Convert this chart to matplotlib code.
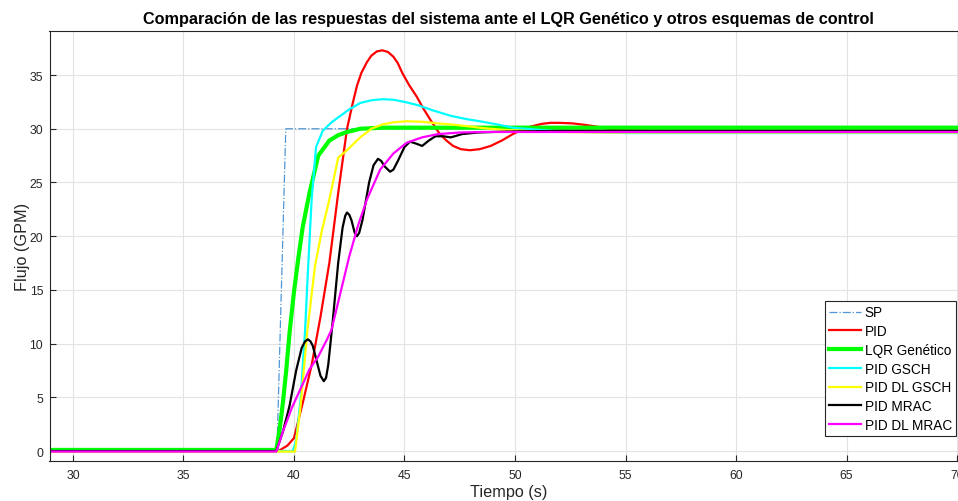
import matplotlib
matplotlib.use("Agg")
import matplotlib.pyplot as plt

plt.rcParams['font.family'] = ['Liberation Sans', 'DejaVu Sans']

# ---- data ----
t_sp = [28, 39.23, 39.63, 71]
y_sp = [0, 0, 30, 30]

t_pid = [28, 39.3, 39.7, 40.0, 40.4, 40.8, 41.2, 41.6, 42.0, 42.4, 42.65, 42.85, 43.05, 43.3,
         43.5, 43.75, 44.0, 44.25, 44.5, 44.7, 44.9, 45.2, 45.55, 45.85, 46.15, 46.6, 46.9,
         47.2, 47.55, 47.96, 48.4, 48.9, 49.4, 49.9, 50.3, 50.7, 51.2, 51.6, 52.0, 52.6,
         53.2, 53.7, 54.2, 54.8, 56, 58, 60, 71]
y_pid = [0, 0, 0.5, 1.2, 4.5, 8.0, 12.5, 17.5, 24.0, 30.0, 32.3, 34.0, 35.2, 36.2,
         36.8, 37.2, 37.3, 37.15, 36.7, 36.1, 35.2, 34.1, 33.0, 31.9, 30.9, 29.5, 28.9,
         28.4, 28.1, 28.0, 28.1, 28.4, 28.9, 29.5, 29.9, 30.2, 30.45, 30.55, 30.55, 30.5,
         30.35, 30.2, 30.0, 29.85, 29.8, 29.8, 29.8, 29.8]

t_lqr = [28, 39.2, 39.35, 39.5, 39.65, 39.8, 40.0, 40.2, 40.4, 40.7, 41.1, 41.6, 42.0, 42.4,
         43.0, 44.0, 46, 50, 71]
y_lqr = [0.1, 0.1, 2.0, 4.5, 7.5, 11.0, 14.8, 18.0, 20.9, 24.0, 27.5, 28.9, 29.4, 29.7,
         30.0, 30.1, 30.1, 30.1, 30.1]

t_gsch = [28, 39.95, 40.1, 40.3, 40.5, 40.65, 40.8, 41.0, 41.3, 41.7, 42.1, 42.5, 43.0, 43.5,
          44.0, 44.5, 45.0, 45.6, 46.3, 47.1, 47.8, 48.4, 49.2, 49.9, 50.5, 52, 55, 58, 71]
y_gsch = [0, 0, 1.0, 4.8, 11.1, 17.5, 23.4, 28.3, 29.8, 30.6, 31.2, 31.8, 32.4, 32.65,
          32.75, 32.7, 32.5, 32.2, 31.7, 31.2, 30.9, 30.7, 30.4, 30.1, 30.0, 29.75, 29.6, 29.6, 29.6]

t_dlgsch = [28, 40.05, 40.3, 40.6, 40.95, 41.25, 41.6, 42.0, 42.45, 43.0, 43.5, 44.0, 44.5,
            45.1, 45.8, 46.5, 47.1, 48.0, 48.6, 49.5, 50.5, 52, 54, 71]
y_dlgsch = [-0.05, -0.05, 4.2, 11.1, 17.2, 20.4, 23.4, 27.3, 28.1, 29.2, 30.0, 30.4, 30.6,
            30.7, 30.65, 30.5, 30.4, 30.2, 30.05, 29.9, 29.8, 29.7, 29.65, 29.65]

t_mrac = [28, 39.2, 39.5, 39.8, 40.1, 40.35, 40.5, 40.63, 40.75, 40.85, 41.05, 41.2, 41.35,
          41.45, 41.55, 41.75, 42.0, 42.2, 42.32, 42.4, 42.5, 42.6, 42.75, 42.85, 42.95, 43.1,
          43.4, 43.6, 43.8, 43.95, 44.1, 44.35, 44.5, 44.7, 45.0, 45.25, 45.55,
          45.8, 46.1, 46.4, 46.75, 47.1, 47.6, 48.3, 49, 50, 52, 71]
y_mrac = [0, 0, 1.8, 4.2, 7.5, 9.6, 10.2, 10.4, 10.2, 9.8, 8.2, 7.0, 6.5,
          6.8, 8.0, 12.0, 17.5, 20.8, 21.9, 22.2, 22.0, 21.5, 20.3, 20.0, 20.3, 21.5,
          25.0, 26.6, 27.2, 27.0, 26.5, 26.0, 26.2, 27.0, 28.3, 28.8, 28.6,
          28.4, 28.9, 29.3, 29.3, 29.2, 29.5, 29.65, 29.7, 29.75, 29.8, 29.8]

t_dlmrac = [28, 39.2, 39.5, 39.9, 40.3, 40.7, 41.1, 41.5, 41.7, 42.1, 42.5, 42.9, 43.3, 43.9,
            44.5, 45.1, 45.8, 46.5, 47.5, 48.6, 50, 71]
y_dlmrac = [-0.05, -0.05, 1.8, 4.0, 5.8, 7.6, 8.8, 10.4, 11.3, 14.7, 18.1, 21.0, 23.4, 26.2,
            27.7, 28.7, 29.2, 29.5, 29.65, 29.7, 29.7, 29.7]

labels = ['SP', 'PID', 'LQR Genético', 'PID GSCH', 'PID DL GSCH', 'PID MRAC', 'PID DL MRAC']
x_ticks = [30, 35, 40, 45, 50, 55, 60, 65, 70]
y_ticks = [0, 5, 10, 15, 20, 25, 30, 35]

fig = plt.figure(figsize=(9.58, 5.02), dpi=100)
ax = fig.add_axes([49.5 / 958, 40 / 502, (967 - 49.5) / 958, 430 / 502])

ax.plot(t_sp, y_sp, color='#4f97d6', lw=0.9, ls='-.', label=labels[0])
ax.plot(t_pid, y_pid, color='#ff0000', lw=1.6, label=labels[1])
ax.plot(t_lqr, y_lqr, color='#00ff00', lw=3.0, label=labels[2])
ax.plot(t_gsch, y_gsch, color='#00ffff', lw=1.6, label=labels[3])
ax.plot(t_dlgsch, y_dlgsch, color='#ffff00', lw=1.6, label=labels[4])
ax.plot(t_mrac, y_mrac, color='#000000', lw=1.6, label=labels[5])
ax.plot(t_dlmrac, y_dlmrac, color='#ff00ff', lw=1.6, label=labels[6])

ax.set_xlim(28.94, 70.45)
ax.set_ylim(-0.93, 39.1)
ax.set_xticks(x_ticks)
ax.set_yticks(y_ticks)
ax.grid(True, color='#e3e3e3', lw=0.8)
ax.set_axisbelow(True)
ax.tick_params(direction='in', length=4, colors='#262626', labelsize=8.8)
ax.tick_params(axis='x', pad=6)
ax.tick_params(axis='y', pad=4.5)
for s in ax.spines.values():
    s.set_color('#262626')
    s.set_linewidth(0.8)

ax.set_title('Comparación de las respuestas del sistema ante el LQR Genético y otros esquemas de control',
             fontsize=11.7, fontweight='bold', pad=5.5)
ax.set_xlabel('Tiempo (s)', fontsize=11.7, color='#262626', labelpad=2)
ax.set_ylabel('Flujo (GPM)', fontsize=11.7, color='#262626', labelpad=0)

leg = ax.legend(loc='lower right', bbox_to_anchor=(956 / 958, 65 / 502), bbox_transform=fig.transFigure,
                fontsize=9.8, fancybox=False, framealpha=1, edgecolor='#262626',
                handlelength=2.3, borderpad=0.3, labelspacing=0.35, handletextpad=0.3,
                borderaxespad=0)
leg.get_frame().set_linewidth(0.8)

fig.savefig('out.png', dpi=100)
